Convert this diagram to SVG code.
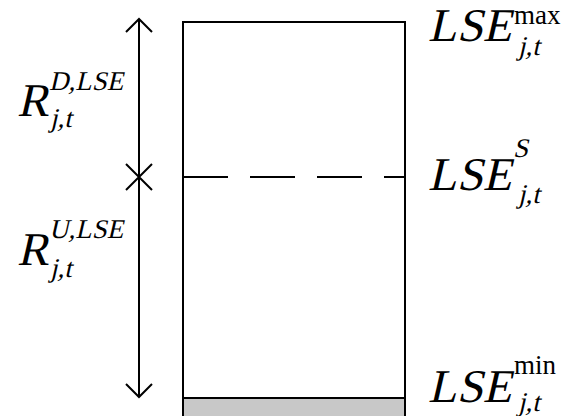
<svg xmlns="http://www.w3.org/2000/svg" width="578" height="416" viewBox="0 0 578 416">
  <style>
    .ln { stroke: #000; stroke-width: 2; fill: none; }
    text { font-family: "Liberation Serif", "Times New Roman", serif; fill: #000; }
    .big { font-size: 47px; }
    .sm { font-size: 27px; }
  </style>
  <rect width="578" height="416" fill="#fff"/>
  <g id="storage">
    <rect x="183" y="398" width="222" height="20" fill="#c8c8c8" stroke="none"/>
    <path class="ln" d="M183,418 V22 H405 V418"/>
    <line class="ln" x1="183" y1="398" x2="405" y2="398" stroke-width="2.5"/>
  </g>
  <g id="connectors">
    <line class="ln" x1="183" y1="177" x2="405" y2="177" stroke-dasharray="45 22"/>
    <line class="ln" x1="139" y1="19" x2="139" y2="397"/>
    <path class="ln" d="M126,32 L139,19 L152,32"/>
    <path class="ln" d="M126,384 L139,397 L152,384"/>
    <path class="ln" d="M126,164 L152,190 M152,164 L126,190"/>
  </g>
  <g id="label-RD">
    <text class="big" transform="translate(17,116) skewX(-13)">R</text>
    <text class="sm" transform="translate(49,90) skewX(-13)">D,LSE</text>
    <text class="sm" transform="translate(50,127) skewX(-13)">j,t</text>
  </g>
  <g id="label-RU">
    <text class="big" transform="translate(17,265) skewX(-13)">R</text>
    <text class="sm" transform="translate(49,238) skewX(-13)">U,LSE</text>
    <text class="sm" transform="translate(50,277) skewX(-13)">j,t</text>
  </g>
  <g id="label-max">
    <text class="big" transform="translate(428,41) skewX(-13)">LSE</text>
    <text class="sm" x="514" y="24">max</text>
    <text class="sm" transform="translate(518,55) skewX(-13)">j,t</text>
  </g>
  <g id="label-S">
    <text class="big" transform="translate(428,190) skewX(-13)">LSE</text>
    <text class="sm" transform="translate(513,157) skewX(-13)">S</text>
    <text class="sm" transform="translate(518,203) skewX(-13)">j,t</text>
  </g>
  <g id="label-min">
    <text class="big" transform="translate(428,402) skewX(-13)">LSE</text>
    <text class="sm" x="514" y="374">min</text>
    <text class="sm" transform="translate(518,411) skewX(-13)">j,t</text>
  </g>
</svg>
